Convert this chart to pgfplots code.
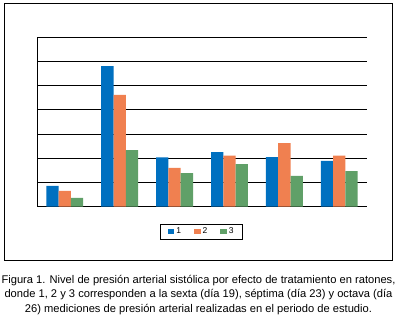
\documentclass[border=0pt]{standalone}
\usepackage{pgfplots}
\pgfplotsset{compat=1.18}
\usepackage{fontspec}
\setmainfont{Liberation Sans}
\definecolor{cblue}{RGB}{0,112,192}
\definecolor{corange}{RGB}{240,128,80}
\definecolor{cgreen}{RGB}{96,160,104}
\begin{document}
\begin{tikzpicture}
\path[use as bounding box] (0,0) rectangle (397bp,317bp);
\fill[white] (0,0) rectangle (397bp,317bp);
\draw[line width=1bp] (4bp,56bp) rectangle (392.7bp,313.7bp);
\begin{axis}[
  at={(37.3bp,110.3bp)}, anchor=south west,
  scale only axis, width=329.4bp, height=169.4bp,
  xmin=-0.5, xmax=5.5, ymin=0, ymax=7,
  axis x line=none, axis y line*=left,
  axis line style={line width=0.9bp, black},
  ytick={0,1,...,7}, yticklabels={}, major tick length=0pt,
  xtick=\empty,
  ymajorgrids, grid style={line width=0.9bp, black},
  ybar=0pt, bar width=12.3bp,
  legend columns=3,
  legend style={at={(0.499,-0.148)}, anchor=center, draw=black, line width=0.9bp,
    font=\fontsize{8.5bp}{9bp}\selectfont, inner xsep=7bp, inner ysep=2bp,
    /tikz/every even column/.append style={column sep=11bp}},
  legend image code/.code={\fill[#1] (0bp,-2.6bp) rectangle (6.5bp,2.6bp);},
]
\addplot[fill=cblue, draw=none] coordinates {(0,0.86) (1,5.81) (2,2.04) (3,2.26) (4,2.05) (5,1.89)};
\addplot[fill=corange, draw=none] coordinates {(0,0.65) (1,4.62) (2,1.60) (3,2.11) (4,2.63) (5,2.11)};
\addplot[fill=cgreen, draw=none] coordinates {(0,0.36) (1,2.34) (2,1.39) (3,1.76) (4,1.27) (5,1.47)};
\legend{1,2,3}
\end{axis}
\node[align=center, font=\fontsize{11.15bp}{14.5bp}\selectfont, inner sep=0pt] at (198.5bp,22bp)
 {Figura 1. Nivel de presión arterial sistólica por efecto de tratamiento en ratones,\\
  donde 1, 2 y 3 corresponden a la sexta (día 19), séptima (día 23) y octava (día\\
  26) mediciones de presión arterial realizadas en el periodo de estudio.};
\end{tikzpicture}
\end{document}
